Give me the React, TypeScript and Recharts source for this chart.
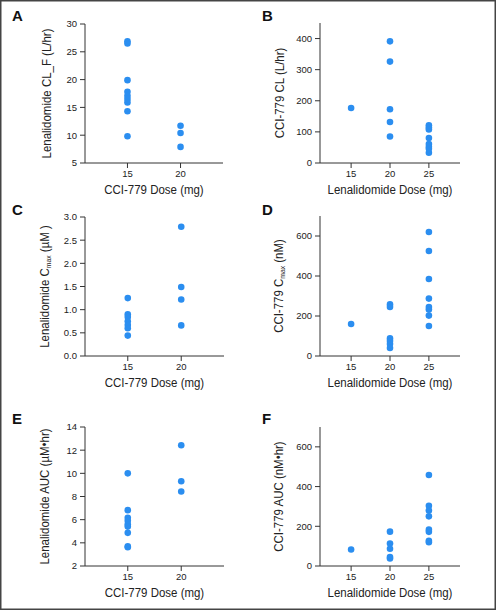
import React from "react";
import { ScatterChart, Scatter, XAxis, YAxis, Label } from "recharts";

// doses per column
const lenaCLF15 = [26.9, 26.5, 19.9, 17.8, 17.1, 16.5, 15.9, 14.3, 9.8];
const lenaCLF20 = [11.7, 10.4, 7.9];

const cciCL15 = [177];
const cciCL20 = [391, 326, 173, 132, 85];
const cciCL25 = [121, 114, 108, 80, 61, 52, 46, 33];

const lenaCmax15 = [1.25, 0.9, 0.84, 0.75, 0.67, 0.6, 0.44];
const lenaCmax20 = [2.79, 1.49, 1.22, 0.66];

const cciCmax15 = [160];
const cciCmax20 = [258, 245, 88, 75, 60, 40];
const cciCmax25 = [620, 525, 385, 287, 245, 232, 202, 150];

const lenaAUC15 = [10.0, 6.82, 6.16, 5.9, 5.6, 5.4, 4.86, 3.7, 3.62];
const lenaAUC20 = [12.42, 9.32, 8.43];

const cciAUC15 = [83];
const cciAUC20 = [173, 113, 87, 45, 38];
const cciAUC25 = [458, 303, 280, 250, 183, 172, 127, 120];

const ticksA = [5, 10, 15, 20, 25, 30];
const ticksB = [0, 100, 200, 300, 400];
const ticksC = [0, 0.5, 1, 1.5, 2, 2.5, 3];
const ticksD = [0, 200, 400, 600];
const ticksE = [2, 4, 6, 8, 10, 12, 14];
const ticksF = [0, 200, 400, 600];

const doseTicks2 = [15, 20];
const doseTicks3 = [15, 20, 25];

const toPoints = (groups: [number, number[]][]) =>
  groups.flatMap(([dose, vals]) => vals.map((v) => ({ dose, v })));

const DOT = "#2b8ef0";
const AXIS = "#333";
const SANS = "'Liberation Sans', Arial, sans-serif";
// the figure uses a condensed face; squeeze the regular one
const SQUEEZE = 0.85;

const dot = (p: any) => <circle cx={p.cx} cy={p.cy} r={3.3} fill={DOT} />;

interface PanelProps {
  left: number;
  top: number;
  height: number;
  plotTop: number;
  plotBottom: number;
  data: { dose: number; v: number }[];
  yDomain: [number, number];
  yTicks: number[];
  yFmt?: (v: number) => string;
  xDomain: [number, number];
  xTicks: number[];
  yLabel: React.ReactNode;
  xLabel: string;
  yLabelGap: number;
  plotLeft: number;
  plotRight: number;
}

function Panel(p: PanelProps) {
  const width = 248;
  const yAxisW = 60;
  const marginTop = p.plotTop - p.top;
  const xAxisH = p.top + p.height - p.plotBottom;
  return (
    <div style={{ position: "absolute", left: p.left, top: p.top }}>
      <ScatterChart
        width={width}
        height={p.height}
        margin={{
          top: marginTop,
          right: p.left + width - p.plotRight,
          bottom: 0,
          left: p.plotLeft - p.left - yAxisW,
        }}
      >
        <XAxis
          type="number"
          dataKey="dose"
          domain={p.xDomain}
          ticks={p.xTicks}
          height={xAxisH}
          tickSize={5}
          tickMargin={2}
          stroke={AXIS}
          tick={{ fill: "#222", fontSize: 9.5, fontFamily: SANS }}
          allowDataOverflow
        >
          <Label
            content={({ viewBox }: any) => (
              <text
                transform={`translate(${viewBox.x + viewBox.width / 2} ${viewBox.y + 31}) scale(${SQUEEZE} 1)`}
                textAnchor="middle"
                fontSize={13.5}
                fontFamily={SANS}
                fill="#222"
              >
                {p.xLabel}
              </text>
            )}
          />
        </XAxis>
        <YAxis
          type="number"
          dataKey="v"
          domain={p.yDomain}
          ticks={p.yTicks}
          width={yAxisW}
          tickSize={5}
          tickMargin={3}
          stroke={AXIS}
          tickFormatter={p.yFmt}
          tick={{ fill: "#222", fontSize: 9.5, fontFamily: SANS }}
          allowDataOverflow
        >
          <Label
            content={({ viewBox }: any) => {
              const cx = viewBox.x + viewBox.width - p.yLabelGap;
              const cy = viewBox.y + viewBox.height / 2;
              return (
                <text
                  transform={`translate(${cx} ${cy}) rotate(-90) scale(${SQUEEZE} 1)`}
                  textAnchor="middle"
                  dominantBaseline="central"
                  fontSize={13.5}
                  fontFamily={SANS}
                  fill="#222"
                >
                  {p.yLabel}
                </text>
              );
            }}
          />
        </YAxis>
        <Scatter data={p.data} shape={dot} isAnimationActive={false} />
      </ScatterChart>
    </div>
  );
}

const sub = (t: string) => (
  <>
    <tspan fontSize={8} dy={3}>
      {t}
    </tspan>
    <tspan dy={-3}> </tspan>
  </>
);

export default function App() {
  return (
    <div
      style={{
        position: "absolute",
        left: 0,
        top: 0,
        width: 496,
        height: 611,
        background: "#fff",
      }}
    >
      <Panel
        left={0}
        top={0}
        height={200}
        plotTop={24}
        plotBottom={163}
        plotLeft={85}
        plotRight={223}
        data={toPoints([[15, lenaCLF15], [20, lenaCLF20]])}
        yDomain={[5, 30]}
        yTicks={ticksA}
        xDomain={[11, 24]}
        xTicks={doseTicks2}
        yLabel="Lenalidomide CL_F (L/hr)"
        xLabel="CCI-779 Dose (mg)"
        yLabelGap={38}
      />
      <Panel
        left={248}
        top={0}
        height={200}
        plotTop={23}
        plotBottom={163}
        plotLeft={320}
        plotRight={460}
        data={toPoints([[15, cciCL15], [20, cciCL20], [25, cciCL25]])}
        yDomain={[0, 450]}
        yTicks={ticksB}
        xDomain={[11, 29]}
        xTicks={doseTicks3}
        yLabel="CCI-779 CL (L/hr)"
        xLabel="Lenalidomide Dose (mg)"
        yLabelGap={40}
      />
      <Panel
        left={0}
        top={200}
        height={200}
        plotTop={217}
        plotBottom={356}
        plotLeft={85}
        plotRight={224}
        data={toPoints([[15, lenaCmax15], [20, lenaCmax20]])}
        yDomain={[0, 3]}
        yTicks={ticksC}
        yFmt={(v) => v.toFixed(1)}
        xDomain={[11, 24]}
        xTicks={doseTicks2}
        yLabel={
          <>
            Lenalidomide C{sub("max")}(µM )
          </>
        }
        xLabel="CCI-779 Dose (mg)"
        yLabelGap={40}
      />
      <Panel
        left={248}
        top={200}
        height={200}
        plotTop={216}
        plotBottom={356}
        plotLeft={320}
        plotRight={460}
        data={toPoints([[15, cciCmax15], [20, cciCmax20], [25, cciCmax25]])}
        yDomain={[0, 700]}
        yTicks={ticksD}
        xDomain={[11, 29]}
        xTicks={doseTicks3}
        yLabel={
          <>
            CCI-779 C{sub("max")}(nM)
          </>
        }
        xLabel="Lenalidomide Dose (mg)"
        yLabelGap={41}
      />
      <Panel
        left={0}
        top={400}
        height={211}
        plotTop={427}
        plotBottom={566}
        plotLeft={85}
        plotRight={224}
        data={toPoints([[15, lenaAUC15], [20, lenaAUC20]])}
        yDomain={[2, 14]}
        yTicks={ticksE}
        xDomain={[11, 24]}
        xTicks={doseTicks2}
        yLabel="Lenalidomide AUC (µM•hr)"
        xLabel="CCI-779 Dose (mg)"
        yLabelGap={40}
      />
      <Panel
        left={248}
        top={400}
        height={211}
        plotTop={427}
        plotBottom={566}
        plotLeft={320}
        plotRight={460}
        data={toPoints([[15, cciAUC15], [20, cciAUC20], [25, cciAUC25]])}
        yDomain={[0, 700]}
        yTicks={ticksF}
        xDomain={[11, 29]}
        xTicks={doseTicks3}
        yLabel="CCI-779 AUC (nM•hr)"
        xLabel="Lenalidomide Dose (mg)"
        yLabelGap={41}
      />
      <svg
        width={496}
        height={611}
        style={{ position: "absolute", left: 0, top: 0, pointerEvents: "none" }}
      >
        <rect x={0.75} y={0.75} width={494.5} height={608.5} fill="none" stroke="#444" strokeWidth={1.5} />
        {[
          ["A", 12, 21],
          ["B", 262, 21],
          ["C", 12, 215],
          ["D", 262, 215],
          ["E", 12, 424],
          ["F", 262, 424],
        ].map(([t, x, y]) => (
          <text key={t as string} x={x as number} y={y as number} fontSize={15} fontWeight="bold" fontFamily={SANS} fill="#111">
            {t}
          </text>
        ))}
      </svg>
    </div>
  );
}
